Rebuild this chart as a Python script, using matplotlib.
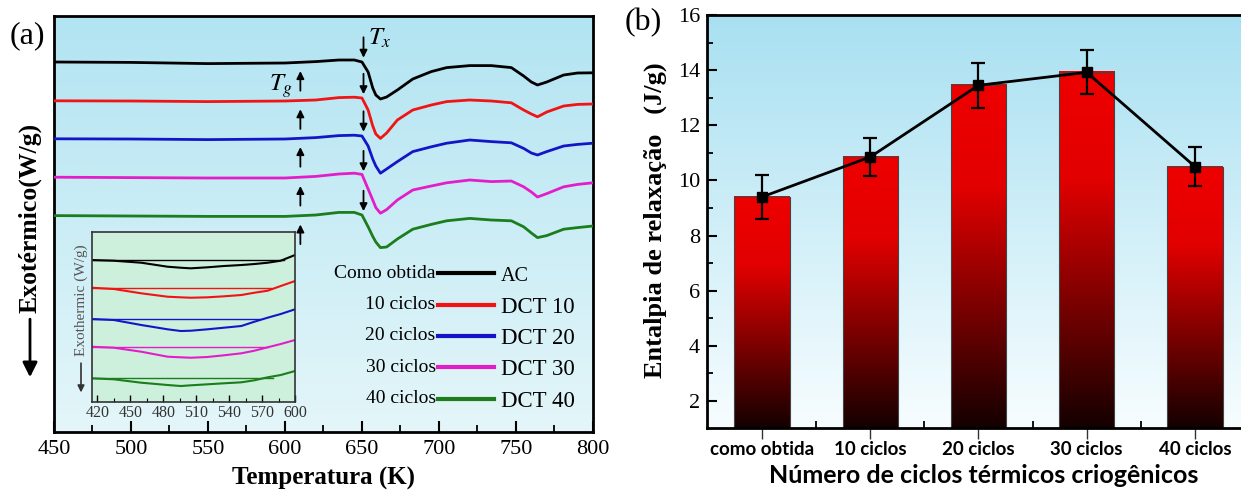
import numpy as np
import matplotlib
matplotlib.use("Agg")
import matplotlib.pyplot as plt
from matplotlib.colors import LinearSegmentedColormap

plt.rcParams['font.family'] = 'Liberation Serif'
plt.rcParams['mathtext.fontset'] = 'stix'

# (a) DSC scans: heat flow in arbitrary units, curves stacked
temp = [450, 500, 550, 600, 620, 635, 645, 650, 654, 657, 659, 662, 666, 673,
        683, 695, 705, 720, 734, 747, 755, 760, 764, 770, 781, 790, 800]
flow_ac = [92.5, 92.4, 92.1, 92.25, 92.6, 93.0, 93.0, 92.5, 90.0, 86.0, 84.25, 83.25, 83.75, 85.5,
           88.25, 90.1, 91.1, 91.6, 91.6, 91.1, 89.0, 87.5, 86.75, 87.5, 89.25, 89.75, 89.8]
flow_dct10 = [82.8, 82.75, 82.6, 82.75, 83.0, 83.6, 83.7, 83.5, 80.5, 76.5, 74.5, 73.4, 74.75, 78.0,
              80.5, 81.75, 82.6, 83.0, 82.75, 82.3, 80.5, 79.5, 78.8, 80.0, 81.5, 81.9, 82.0]
flow_dct20 = [73.3, 73.25, 73.1, 73.25, 73.6, 74.1, 74.2, 74.0, 71.5, 68.25, 66.5, 64.7, 65.75, 67.6,
              70.1, 71.3, 72.2, 73.0, 72.6, 72.3, 70.9, 69.75, 69.25, 70.1, 71.5, 71.9, 72.2]
flow_dct30 = [63.7, 63.6, 63.5, 63.5, 63.9, 64.5, 64.7, 64.4, 60.75, 58.0, 56.1, 54.7, 55.6, 58.0,
              60.5, 61.5, 62.3, 63.0, 62.6, 62.75, 61.3, 60.0, 58.75, 59.6, 61.3, 61.9, 62.3]
flow_dct40 = [54.1, 54.0, 53.9, 53.9, 54.25, 54.9, 54.9, 54.25, 51.3, 48.9, 47.5, 46.1, 46.25, 48.25,
              50.7, 51.9, 52.8, 53.4, 53.0, 52.8, 51.3, 49.75, 48.6, 49.1, 50.7, 51.1, 51.5]
labels_dct = ["AC", "DCT 10", "DCT 20", "DCT 30", "DCT 40"]
labels_ciclos = ["Como obtida", "10 ciclos", "20 ciclos", "30 ciclos", "40 ciclos"]
colors = ["black", "#f01414", "#1515c8", "#e21ec8", "#1b7d1b"]
T_g = 610
T_x = 651

# inset: glass transition region
temp_in = [415, 435, 460, 484, 496, 505, 520, 535, 551, 563, 575, 587, 600]
in_ac = [142, 141.3, 139.3, 135.3, 134.3, 133.7, 134.7, 136, 137, 138, 139.3, 141.3, 147]
in_dct10 = [114.3, 113, 108.7, 105.3, 104.7, 104.3, 104.7, 105.7, 107, 109.3, 111.3, 116, 121]
in_dct20 = [83, 82, 77, 72.7, 71, 71.3, 72.7, 74.3, 76, 80.3, 84.3, 88, 92.7]
in_dct30 = [55.3, 54.3, 50.3, 45.3, 44.7, 44.3, 45, 46.7, 48.7, 51.3, 54.7, 58, 62]
in_dct40 = [23.7, 22.7, 19.3, 17, 16, 16.7, 17.7, 18.7, 19.7, 21.7, 24.7, 27, 31]
in_base = [142, 114.3, 83, 55.3, 24.3]
in_base_end = [590, 578, 568, 575, 580]

# (b) relaxation enthalpy
cycles = ["como obtida", "10 ciclos", "20 ciclos", "30 ciclos", "40 ciclos"]
enthalpy = [9.4, 10.85, 13.45, 13.92, 10.5]
enthalpy_err = [0.8, 0.7, 0.82, 0.8, 0.7]

flows = [flow_ac, flow_dct10, flow_dct20, flow_dct30, flow_dct40]
flows_in = [in_ac, in_dct10, in_dct20, in_dct30, in_dct40]
grad = np.linspace(0, 1, 256).reshape(-1, 1)

fig = plt.figure(figsize=(12.41, 4.94), dpi=100)

# ---------------- panel (a) ----------------
ax = fig.add_axes([0.0435, 0.1255, 0.4343, 0.8421])
bg_a = LinearSegmentedColormap.from_list("bg_a", ["#e4f6f9", "#b2e4f2"])
ax.imshow(grad, cmap=bg_a, origin='lower', extent=[0, 1, 0, 1],
          transform=ax.transAxes, aspect='auto', zorder=0)

for f, c, lab in zip(flows, colors, labels_dct):
    ax.plot(temp, f, color=c, lw=2, label=lab, zorder=3)

# onset markers
for f in flows:
    tip = np.interp(T_x, temp, f) + 1.0
    ax.annotate('', xy=(T_x, tip), xytext=(T_x, tip + 6.5),
                arrowprops=dict(arrowstyle='-|>', color='k', lw=1.3, mutation_scale=11), zorder=4)
    tip = np.interp(T_g, temp, f) - 1.5
    ax.annotate('', xy=(T_g, tip), xytext=(T_g, tip - 6.3),
                arrowprops=dict(arrowstyle='-|>', color='k', lw=1.3, mutation_scale=11), zorder=4)
ax.text(T_x + 3, 98.5, '$T_x$', fontsize=18, ha='left', va='center')
ax.text(T_g - 5, 86.5, '$T_g$', fontsize=18, ha='right', va='center')

ax.set_xlim(450, 800)
ax.set_ylim(0, 104)
ax.set_yticks([])
ax.set_xticks(range(450, 801, 50))
ax.set_xticks(range(475, 800, 50), minor=True)
ax.tick_params(axis='x', which='major', direction='in', length=8, width=1.5, labelsize=16, pad=6)
ax.tick_params(axis='x', which='minor', direction='in', length=5, width=1.3)
for s in ax.spines.values():
    s.set_linewidth(2)
ax.set_xlabel('Temperatura (K)', fontsize=18, fontweight='bold')
ax.xaxis.set_label_coords(0.5, -0.085)
ax.text(-0.0445, 0.514, 'Exotérmico(W/g)', transform=ax.transAxes, rotation=90,
        ha='center', va='center', fontsize=18.5, fontweight='bold')
ax.annotate('', xy=(-0.0445, 0.125), xycoords='axes fraction', xytext=(-0.0445, 0.278),
            textcoords='axes fraction', annotation_clip=False,
            arrowprops=dict(arrowstyle='-|>', color='k', lw=2, mutation_scale=22))

leg = ax.legend(loc='upper left', bbox_to_anchor=(0.712, 0.401), frameon=False, fontsize=16.5,
                handlelength=2.45, handletextpad=0.3, labelspacing=0.45,
                borderaxespad=0, borderpad=0)
leg.get_texts()[0].set_fontsize(14.5)
for line in leg.get_lines():
    line.set_linewidth(3)

# inset
ins = fig.add_axes([0.0741, 0.1862, 0.1636, 0.3441])
ins.set_facecolor('#cdf0dc')
for f, b, e, c in zip(flows_in, in_base, in_base_end, colors):
    ins.plot([415, e], [b, b], color=c, lw=1)
    ins.plot(temp_in, f, color=c, lw=1.5)
ins.set_xlim(415, 600)
ins.set_ylim(0, 170)
ins.set_yticks([])
ins.set_xticks(range(420, 601, 30))
ins.set_xticks(range(435, 600, 30), minor=True)
ins.tick_params(axis='x', which='major', direction='in', length=5, width=1, labelsize=11.5,
                pad=2, labelcolor='#333333')
ins.tick_params(axis='x', which='minor', direction='in', length=3, width=0.8)
for s in ins.spines.values():
    s.set_linewidth(1.2)
    s.set_color('#333333')
ins.text(-0.054, 0.6, 'Exothermic (W/g)', transform=ins.transAxes, rotation=90,
         ha='center', va='center', fontsize=11, color='#555555')
ins.annotate('', xy=(-0.054, 0.04), xycoords='axes fraction', xytext=(-0.054, 0.245),
             textcoords='axes fraction', annotation_clip=False,
             arrowprops=dict(arrowstyle='-|>', color='#333333', lw=1.2, mutation_scale=10))

fig.text(0.0218, 0.927, '(a)', fontsize=23, ha='center', va='center')

# ---------------- panel (b) ----------------
bx = fig.add_axes([0.5697, 0.1326, 0.4303, 0.8370])
bg_b = LinearSegmentedColormap.from_list("bg_b", ["#f7fdff", "#a8e0f1"])
bx.imshow(grad, cmap=bg_b, origin='lower', extent=[0, 1, 0, 1],
          transform=bx.transAxes, aspect='auto', zorder=0)

pos = np.arange(len(cycles))
bars = bx.bar(pos, enthalpy, width=0.51, color='none', edgecolor='#444444', lw=0.8, zorder=2)
bar_cmap = LinearSegmentedColormap.from_list(
    "bar", [(0, '#140000'), (0.7, '#e20000'), (1, '#ee0000')])
for rect, h in zip(bars, enthalpy):
    x0 = rect.get_x()
    bx.imshow(grad, cmap=bar_cmap, origin='lower', extent=[x0, x0 + rect.get_width(), 1, h],
              aspect='auto', zorder=1.5)

bx.errorbar(pos, enthalpy, yerr=enthalpy_err, color='k', marker='s', ms=7, lw=2,
            elinewidth=1.6, capsize=5, capthick=1.6, zorder=3)

bx.set_xlim(-0.508, 4.425)
bx.set_ylim(1, 16)
bx.set_yticks(range(2, 17, 2))
bx.set_yticks(range(3, 16, 2), minor=True)
bx.tick_params(axis='y', which='major', direction='in', length=7, width=1.5, labelsize=16, pad=5)
bx.tick_params(axis='y', which='minor', direction='in', length=4, width=1.3)
bx.set_xticks(pos)
bx.set_xticklabels(cycles, fontfamily='Lato', fontweight='bold', fontsize=13.5)
bx.set_xticks(pos[:-1] + 0.5, minor=True)
bx.tick_params(axis='x', which='major', direction='out', length=8, width=1, color='#333333', pad=1)
bx.tick_params(axis='x', which='minor', direction='in', length=5, width=1.3)
bx.spines['right'].set_visible(False)
for s in ['left', 'top', 'bottom']:
    bx.spines[s].set_linewidth(2)
bx.text(-0.0974, 0.504, 'Entalpia de relaxação   (J/g)', transform=bx.transAxes, rotation=90,
        ha='center', va='center', fontsize=19, fontweight='bold')
bx.set_xlabel('Número de ciclos térmicos criogênicos', fontfamily='Lato', fontweight='bold',
              fontsize=18)
bx.xaxis.set_label_coords(0.519, -0.085)
fig.text(0.518, 0.955, '(b)', fontsize=23, ha='center', va='center')

# labels on the left of the legend samples
fig.canvas.draw()
for line, name in zip(leg.get_lines(), labels_ciclos):
    bb = line.get_window_extent()
    fig.text((bb.x0 - 2) / fig.bbox.width, (bb.y0 + bb.y1) / 2 / fig.bbox.height, name,
             ha='right', va='center', fontsize=14)

fig.savefig('out.png', dpi=100)
